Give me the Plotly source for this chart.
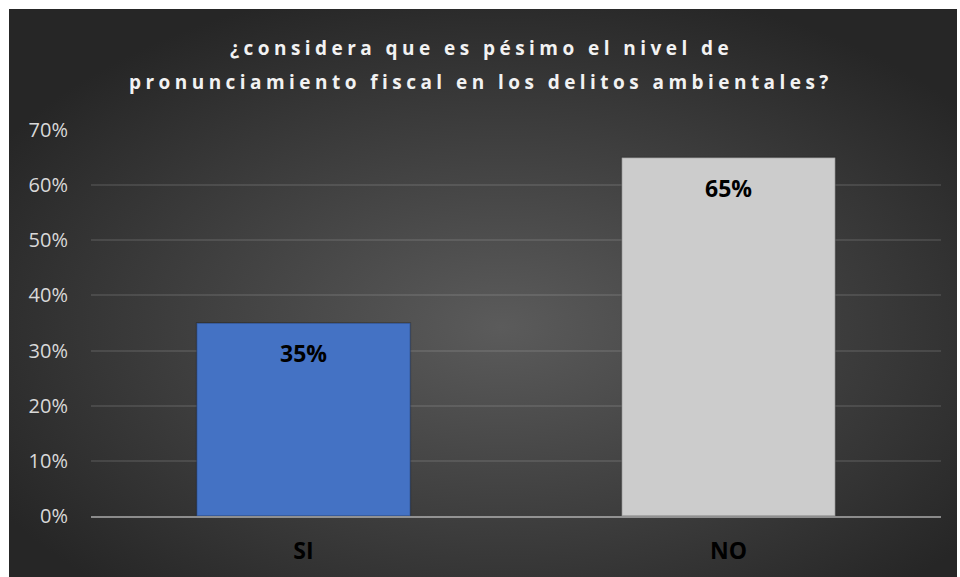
import base64
import plotly.graph_objects as go

# Survey answers
categories = ["SI", "NO"]
shares = [0.35, 0.65]
bar_colors = ["#4472C4", "#CCCCCC"]
y_ticks = [0, 0.1, 0.2, 0.3, 0.4, 0.5, 0.6, 0.7]
y_tick_labels = ["0%", "10%", "20%", "30%", "40%", "50%", "60%", "70%"]
title_lines = ["¿considera que es pésimo el nivel de",
               "pronunciamiento fiscal en los delitos ambientales?"]

W, H = 960, 577
ML, MR, MT, MB = 91, 19, 130, 61
plot_w = W - ML - MR
plot_h = H - MT - MB

# dark chart panel with a radial gradient, drawn as an SVG image
svg = (
    '<svg xmlns="http://www.w3.org/2000/svg" width="948" height="568" '
    'viewBox="0 0 948 568" preserveAspectRatio="none">'
    '<defs><radialGradient id="g" cx="0.52" cy="0.56" r="0.62">'
    '<stop offset="0" stop-color="#5b5b5b"/>'
    '<stop offset="0.55" stop-color="#3e3e3e"/>'
    '<stop offset="1" stop-color="#262626"/>'
    '</radialGradient></defs>'
    '<rect width="948" height="568" fill="url(#g)"/></svg>'
)
svg_uri = "data:image/svg+xml;base64," + base64.b64encode(svg.encode()).decode()

panel_x0, panel_x1 = 9, 957
panel_y0, panel_y1 = 9, 577


def px_to_paper_x(px):
    return (px - ML) / plot_w


def px_to_paper_y(py):
    return (H - MB - py) / plot_h


fig = go.Figure()
fig.add_trace(go.Bar(
    x=categories,
    y=shares,
    marker=dict(color=bar_colors, line=dict(color="rgba(0,0,0,0.25)", width=1.5)),
    hoverinfo="skip",
))

# value labels near the top of each bar
for cat, val in zip(categories, shares):
    fig.add_annotation(
        x=cat, y=val, xref="x", yref="y",
        text=f"<b>{val:.0%}</b>",
        showarrow=False, yanchor="middle", yshift=-30,
        font=dict(family="Open Sans", size=23, color="#000000"),
    )

# two-line chart title with wide letter spacing, centred on the panel
title_cx = (panel_x0 + panel_x1) / 2 - 2
for line, cy in zip(title_lines, [48, 82]):
    fig.add_annotation(
        x=px_to_paper_x(title_cx), y=px_to_paper_y(cy), xref="paper", yref="paper",
        xanchor="center", yanchor="middle", showarrow=False,
        text=f'<span style="letter-spacing:4.45px"><b>{line}</b></span>',
        font=dict(family="Open Sans", size=19, color="#F2F2F2"),
    )

fig.add_layout_image(dict(
    source=svg_uri, xref="paper", yref="paper",
    x=px_to_paper_x(panel_x0), y=px_to_paper_y(panel_y0),
    sizex=(panel_x1 - panel_x0) / plot_w, sizey=(panel_y1 - panel_y0) / plot_h,
    xanchor="left", yanchor="top", sizing="stretch", layer="below",
))

fig.update_layout(
    width=W, height=H,
    margin=dict(l=ML, r=MR, t=MT, b=MB, pad=0, autoexpand=False),
    paper_bgcolor="#FFFFFF",
    plot_bgcolor="rgba(0,0,0,0)",
    bargap=0.497,
    showlegend=False,
    xaxis=dict(
        automargin=False,
        showgrid=False, showline=True, linewidth=2,
        linecolor="rgba(217,217,217,0.55)",
        ticks="", ticklabelstandoff=13,
        tickfont=dict(family="Open Sans", size=23, color="#000000", weight="bold"),
    ),
    yaxis=dict(
        automargin=False,
        range=[0, 0.7], tickvals=y_ticks, ticktext=y_tick_labels,
        showgrid=True, gridcolor="rgba(217,217,217,0.13)", gridwidth=1.5,
        zeroline=False, showline=False, ticks="", ticklabelstandoff=22,
        tickfont=dict(family="Open Sans", size=20, color="#D9D9D9"),
    ),
)

fig.write_html("out.html")
